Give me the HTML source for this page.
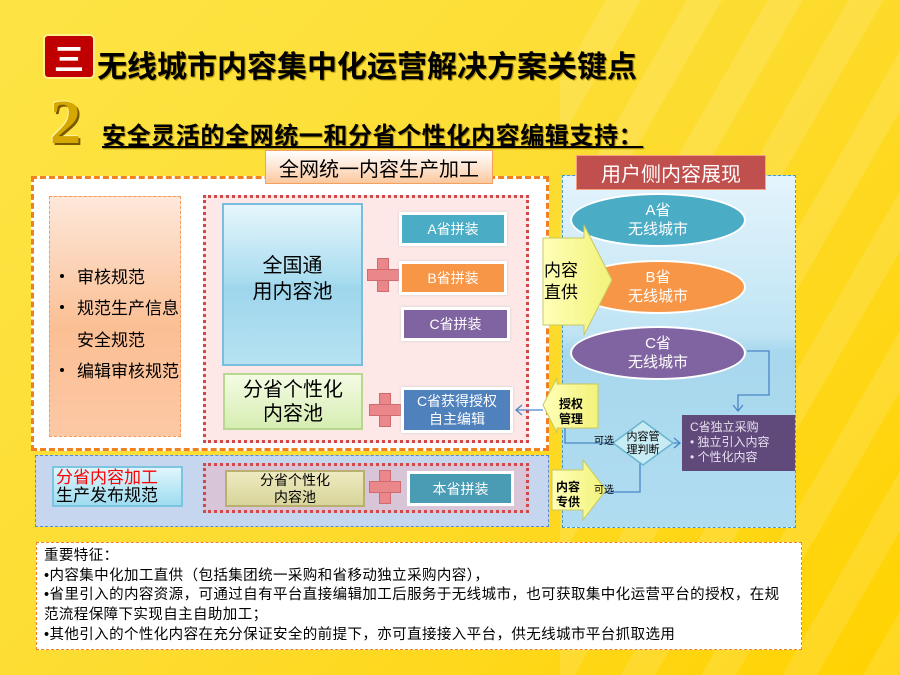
<!DOCTYPE html>
<html><head><meta charset="utf-8"><style>
*{margin:0;padding:0;box-sizing:border-box}
body{width:900px;height:675px;overflow:hidden;font-family:"Liberation Sans","Noto Sans CJK SC",sans-serif;background:linear-gradient(135deg,#fde445 0%,#fddc30 50%,#ffd200 100%);position:relative}
.a{position:absolute}
.c{display:flex;align-items:center;justify-content:center;text-align:center}
.plus{position:absolute;width:30px;height:32px}
.plus:before{content:"";position:absolute;left:10px;top:0;width:10px;height:100%;background:#e9878a;border:1px solid #d06a6e}
.plus:after{content:"";position:absolute;top:11px;left:0;height:10px;width:100%;background:#e9878a;border:1px solid #d06a6e}
.bl{position:absolute;font-size:17px;white-space:nowrap}
.dot{position:absolute;width:4px;height:4px;border-radius:50%;background:#000}
</style></head><body>
<div class="a" style="left:560px;top:0;width:340px;height:675px;background:repeating-linear-gradient(120deg,rgba(255,255,255,0) 0 40px,rgba(255,255,255,0.12) 40px 70px)"></div>
<!-- title -->
<div class="a c" style="left:43px;top:34px;width:52px;height:45px;background:#c00000;border:2px solid #ffef8a;border-radius:5px;color:#fff;font-size:30px;font-weight:bold">三</div>
<div class="a" style="left:97px;top:42px;font-size:30px;font-weight:bold;color:#000;white-space:nowrap;letter-spacing:0px;text-shadow:1px 1px 1px #a08000">无线城市内容集中化运营解决方案关键点</div>
<div class="a" style="left:50px;top:88px;font-size:62px;font-weight:bold;color:#d4a800;font-family:'Liberation Serif',serif;text-shadow:2px 2px 0 #7a5a00,-1px -1px 0 #fff3a0">2</div>
<div class="a" style="left:102px;top:116px;font-size:24px;font-weight:bold;color:#000;white-space:nowrap;letter-spacing:0.6px;text-decoration:underline;text-shadow:1px 1px 1px #a08000">安全灵活的全网统一和分省个性化内容编辑支持：</div>

<!-- left big box -->
<div class="a" style="left:31px;top:176px;width:518px;height:275px;background:#fff;border:3px dashed #f08020"></div>
<div class="a c" style="left:265px;top:150px;width:228px;height:34px;background:linear-gradient(#fff 0%,#fddfc8 60%,#fbc89c 100%);border:1px solid #f5a060;font-size:20px;color:#000">全网统一内容生产加工</div>
<div class="a" style="left:49px;top:196px;width:132px;height:241px;background:linear-gradient(#fde8da,#fbbf94 55%,#fcc8a4);border:1px dashed #f59a5a"></div>
<div class="dot" style="left:60px;top:274px"></div><div class="bl" style="left:77px;top:263px">审核规范</div>
<div class="dot" style="left:60px;top:305px"></div><div class="bl" style="left:77px;top:294px">规范生产信息</div>
<div class="bl" style="left:77px;top:326px">安全规范</div>
<div class="dot" style="left:60px;top:368px"></div><div class="bl" style="left:77px;top:357px">编辑审核规范</div>
<div class="a" style="left:203px;top:195px;width:326px;height:248px;background:#fde7e7;border:3px dotted #d04848"></div>
<div class="a c" style="left:222px;top:203px;width:141px;height:163px;background:linear-gradient(#e6f6fc,#a8dcef 48%,#9ed6ec 52%,#b6e2f2);border:2px solid #78bedc;font-size:20px;line-height:26px;padding-bottom:12px">全国通<br>用内容池</div>
<div class="a c" style="left:223px;top:373px;width:140px;height:57px;background:linear-gradient(#f4fce4,#d6edb2);border:2px solid #b8d890;font-size:20px;line-height:24px">分省个性化<br>内容池</div>
<div class="plus" style="left:367px;top:258px"></div>
<div class="plus" style="left:369px;top:393px"></div>
<div class="a c" style="left:399px;top:212px;width:108px;height:34px;background:#4bacc6;border:3px solid #fff;box-shadow:0 0 2px #ccc;color:#fff;font-size:14px">A省拼装</div>
<div class="a c" style="left:399px;top:261px;width:108px;height:34px;background:#f79646;border:3px solid #fff;box-shadow:0 0 2px #ccc;color:#fff;font-size:14px">B省拼装</div>
<div class="a c" style="left:401px;top:307px;width:109px;height:34px;background:#8064a2;border:3px solid #fff;box-shadow:0 0 2px #ccc;color:#fff;font-size:14px">C省拼装</div>
<div class="a c" style="left:401px;top:387px;width:112px;height:46px;background:#4f81bd;border:3px solid #fff;box-shadow:0 0 2px #ccc;color:#fff;font-size:14px;line-height:18px">C省获得授权<br>自主编辑</div>

<!-- bottom left -->
<div class="a" style="left:35px;top:455px;width:514px;height:72px;background:#c6d6ee;border:1px dashed #5a8ad0"></div>
<div class="a" style="left:52px;top:466px;width:131px;height:41px;background:linear-gradient(#e0f6fc,#9edcf0);border:2px solid #7cc4e0;font-size:17px;line-height:18px;padding-left:2px;padding-top:1px"><span style="color:#f00">分省内容加工</span><br>生产发布规范</div>
<div class="a" style="left:203px;top:463px;width:326px;height:50px;background:#d8c6d8;border:3px dotted #d04848"></div>
<div class="a c" style="left:225px;top:470px;width:140px;height:37px;background:linear-gradient(#eeeac0,#d8d49a);border:2px solid #b8b070;font-size:14px;line-height:17px">分省个性化<br>内容池</div>
<div class="plus" style="left:369px;top:470px"></div>
<div class="a c" style="left:407px;top:471px;width:107px;height:35px;background:#4a9bb4;border:3px solid #fff;color:#fff;font-size:14px">本省拼装</div>

<!-- right panel -->
<div class="a" style="left:562px;top:175px;width:234px;height:353px;background:linear-gradient(#e4f4fc,#bfe4f4 45%,#a8d8ee 50%,#b0dcf0);border:1px dashed #4a9ac8"></div>
<div class="a c" style="left:576px;top:155px;width:190px;height:35px;background:#c0504d;border:1px solid #f5a080;color:#fff;font-size:20px">用户侧内容展现</div>
<div class="a c" style="left:570px;top:193px;width:176px;height:54px;border-radius:50%;background:#4bacc6;border:2px solid #fff;color:#fff;font-size:15px;line-height:19px">A省<br>无线城市</div>
<div class="a c" style="left:570px;top:260px;width:176px;height:54px;border-radius:50%;background:#f79646;border:2px solid #fff;color:#fff;font-size:15px;line-height:19px">B省<br>无线城市</div>
<div class="a c" style="left:570px;top:326px;width:176px;height:54px;border-radius:50%;background:#8064a2;border:2px solid #fff;color:#fff;font-size:15px;line-height:19px">C省<br>无线城市</div>
<div class="a" style="left:682px;top:415px;width:113px;height:56px;background:#604a7b;color:#e8e0f0;font-size:12px;line-height:15px;padding:5px 0 0 8px">C省独立采购<br>•&nbsp;独立引入内容<br>•&nbsp;个性化内容</div>

<svg class="a" style="left:0;top:0" width="900" height="675">
<defs><linearGradient id="y" x1="0" y1="0" x2="1" y2="0"><stop offset="0" stop-color="#ffffb8"/><stop offset="1" stop-color="#f2f27a"/></linearGradient></defs>
<polygon points="543,238 584,238 584,225 612,280 584,335 584,325 543,325" fill="url(#y)" stroke="#c8c860" stroke-width="1"/>
<polygon points="598,384 557,384 557,378 543,405 557,433 557,428 598,428" fill="url(#y)" stroke="#c8c860"/>
<polygon points="552,470 583,470 583,460 606,490 583,520 583,510 552,510" fill="url(#y)" stroke="#c8c860"/>
<g fill="none" stroke="#4a86c8" stroke-width="1.3">
<polyline points="747,351 769,351 769,395 738,395 738,410"/>
<polyline points="733,405 738,411 743,405"/>
<polyline points="565,428 565,443 613,443"/>
<polyline points="606,492 640,492 640,463"/>
<line x1="673" y1="443" x2="680" y2="443"/><polyline points="674,438 680,443 674,448"/>
<line x1="543" y1="410" x2="516" y2="410"/><polyline points="522,405 516,410 522,415"/>
</g>
<polygon points="643,421 673,443 643,465 613,443" fill="#c8ecf4" stroke="#6ab4d0" stroke-width="1.5"/>
</svg>
<div class="a" style="left:544px;top:260px;font-size:17px;line-height:22px">内容<br>直供</div>
<div class="a" style="left:559px;top:397px;font-size:12px;font-weight:bold;line-height:15px">授权<br>管理</div>
<div class="a" style="left:556px;top:480px;font-size:12px;font-weight:bold;line-height:15px">内容<br>专供</div>
<div class="a" style="left:594px;top:432px;font-size:10px">可选</div>
<div class="a" style="left:594px;top:481px;font-size:10px">可选</div>
<div class="a c" style="left:618px;top:431px;width:50px;font-size:11px;line-height:13px">内容管<br>理判断</div>

<!-- notes -->
<div class="a" style="left:36px;top:542px;width:766px;height:108px;background:#fff;border:1px dashed #f08020;font-size:14.5px;line-height:19.7px;padding:4px 0 0 7px;color:#000;letter-spacing:0.4px;white-space:nowrap">重要特征：<br>•内容集中化加工直供（包括集团统一采购和省移动独立采购内容），<br>•省里引入的内容资源，可通过自有平台直接编辑加工后服务于无线城市，也可获取集中化运营平台的授权，在规<br>范流程保障下实现自主自助加工；<br>•其他引入的个性化内容在充分保证安全的前提下，亦可直接接入平台，供无线城市平台抓取选用</div>
</body></html>
